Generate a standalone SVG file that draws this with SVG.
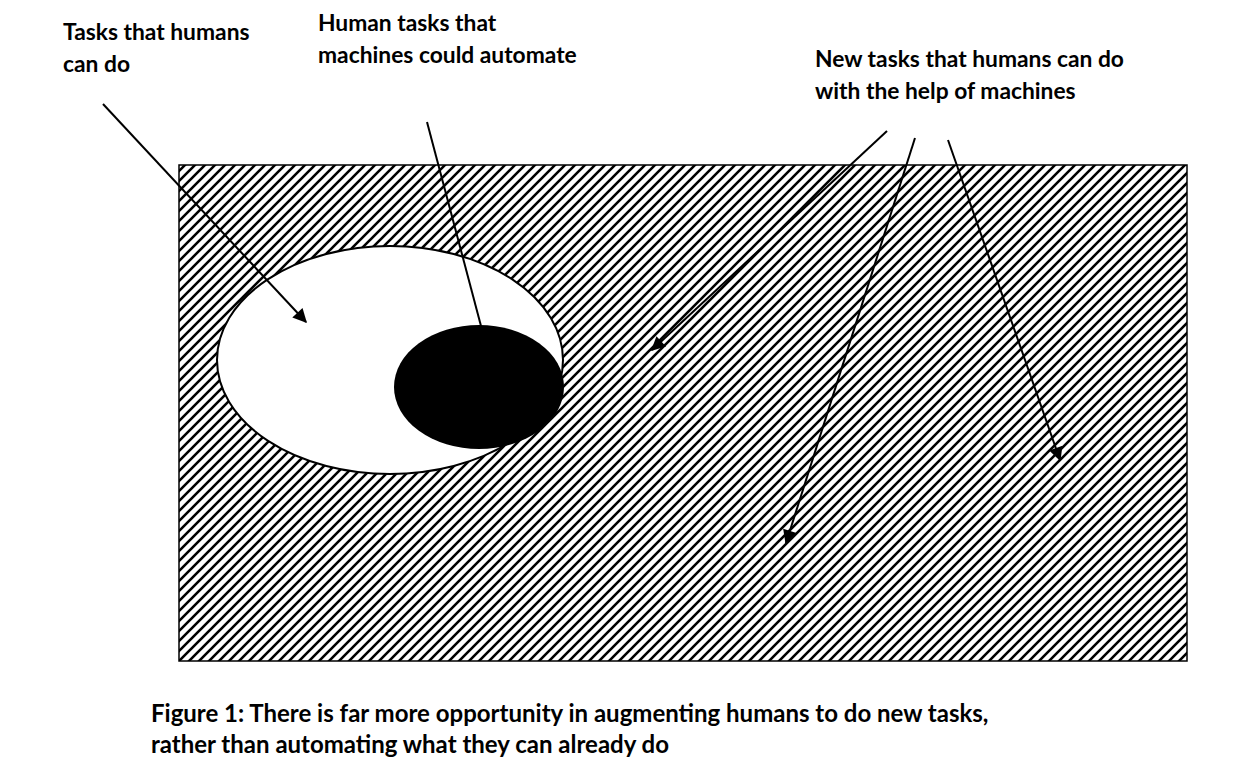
<svg xmlns="http://www.w3.org/2000/svg" width="1260" height="784" viewBox="0 0 1260 784">
<style>
.lbl{font-family:Lato,"Liberation Sans",sans-serif;font-weight:bold;font-size:22.8px;fill:#000}
.cap{font-family:Lato,"Liberation Sans",sans-serif;font-weight:bold;font-size:24px;fill:#000}
.conn{stroke:#000;stroke-width:2;fill:none}
</style>
<defs>
<pattern id="hatch" patternUnits="userSpaceOnUse" width="10" height="10">
<path d="M-2,2 L2,-2 M0,10 L10,0 M8,12 L12,8" stroke="#000" stroke-width="2.6"/>
</pattern>
<marker id="ah" viewBox="0 0 10 10" refX="9" refY="5" markerWidth="8.5" markerHeight="7" markerUnits="strokeWidth" orient="auto">
<path d="M0,0 L10,5 L0,10 z" fill="#000"/>
</marker>
</defs>
<rect width="1260" height="784" fill="#fff"/>
<g id="field">
<rect x="179" y="165" width="1008" height="496" fill="url(#hatch)" stroke="#000" stroke-width="1.5"/>
</g>
<g id="human-tasks">
<ellipse cx="390" cy="360" rx="173" ry="114" fill="#fff" stroke="#000" stroke-width="2"/>
</g>
<g id="automatable">
<ellipse cx="479" cy="387" rx="85" ry="62" fill="#000"/>
</g>
<g id="connectors">
<line class="conn" x1="103" y1="104" x2="306" y2="322" marker-end="url(#ah)"/>
<line class="conn" x1="427" y1="122" x2="481" y2="326"/>
<line class="conn" x1="887" y1="131" x2="652" y2="350" marker-end="url(#ah)"/>
<line class="conn" x1="915" y1="138" x2="786" y2="543" marker-end="url(#ah)"/>
<line class="conn" x1="948" y1="140" x2="1060" y2="460" marker-end="url(#ah)"/>
</g>
<g id="label-humans">
<text class="lbl" x="63" y="40">Tasks that humans</text>
<text class="lbl" x="63" y="72">can do</text>
</g>
<g id="label-automate">
<text class="lbl" x="318" y="31">Human tasks that</text>
<text class="lbl" x="318" y="63">machines could automate</text>
</g>
<g id="label-new">
<text class="lbl" x="815" y="67">New tasks that humans can do</text>
<text class="lbl" x="815" y="99">with the help of machines</text>
</g>
<g id="caption">
<text class="cap" x="151" y="722">Figure 1: There is far more opportunity in augmenting humans to do new tasks,</text>
<text class="cap" x="151" y="753">rather than automating what they can already do</text>
</g>
</svg>
